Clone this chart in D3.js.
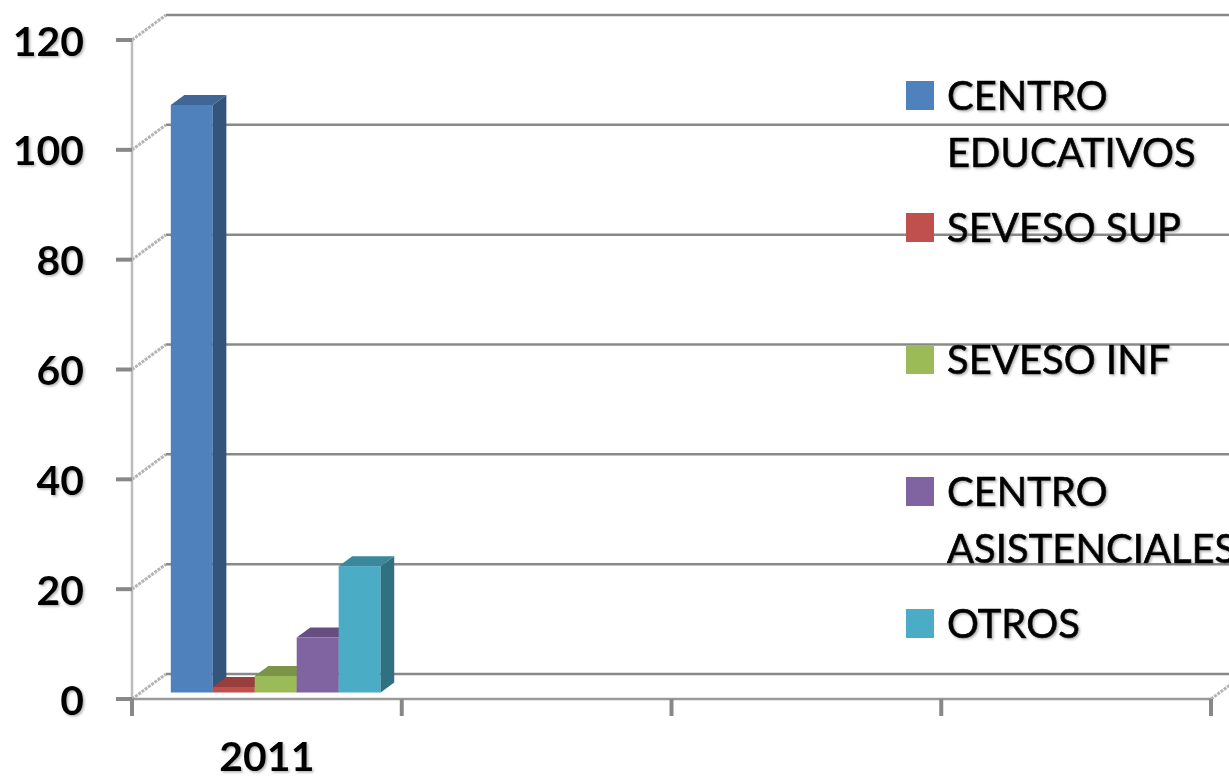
<!DOCTYPE html>
<html>
<head>
<meta charset="utf-8">
<script src="https://cdn.jsdelivr.net/npm/d3@7"></script>
<style>
  html, body { margin: 0; padding: 0; background: #fff; }
  svg { display: block; font-family: Lato, "DejaVu Sans", sans-serif; }
</style>
</head>
<body>
<svg id="chart" width="1229" height="780"></svg>
<script>
// data
const categories = ["2011", "", "", ""];
const seriesNames = ["CENTRO\nEDUCATIVOS", "SEVESO SUP", "SEVESO INF", "CENTRO\nASISTENCIALES", "OTROS"];
const seriesColors = ["#4F81BD", "#C0504D", "#9BBB59", "#8064A2", "#4BACC6"];
const values2011 = [107, 1, 3, 10, 23];
const yTicks = [0, 20, 40, 60, 80, 100, 120];

// front plane geometry and the 3d depth offset of the back wall
const plotLeft = 132, plotRight = 1211, plotBottom = 699, plotTop = 40;
const depthX = 34, depthY = -25;
// bars sit between these fractions of the depth
const barD0 = 0.26, barD1 = 0.66;

const svg = d3.select("#chart");

const defs = svg.append("defs");
defs.append("filter").attr("id", "shadow")
  .attr("x", "-10%").attr("y", "-10%").attr("width", "120%").attr("height", "130%")
  .append("feDropShadow")
  .attr("dx", 1.5).attr("dy", 1.5).attr("stdDeviation", 1)
  .attr("flood-color", "#777").attr("flood-opacity", 0.55);

const x0 = d3.scaleBand()
  .domain(d3.range(categories.length))
  .range([plotLeft, plotRight]);

const x1 = d3.scaleBand()
  .domain(d3.range(seriesNames.length))
  .range([0, x0.bandwidth()])
  .paddingOuter(0.714);

const y = d3.scaleLinear().domain([0, 120]).range([plotBottom, plotTop]);

// back wall gridlines
const grid = svg.append("g");
grid.selectAll("line.grid")
  .data(yTicks)
  .join("line")
  .attr("class", "grid")
  .attr("x1", plotLeft + depthX).attr("x2", plotRight + depthX + 40)
  .attr("y1", d => y(d) + depthY).attr("y2", d => y(d) + depthY)
  .attr("stroke", "#898989").attr("stroke-width", 2.5);

// side wall diagonals
grid.selectAll("line.diag")
  .data(yTicks)
  .join("line")
  .attr("class", "diag")
  .attr("x1", plotLeft).attr("y1", d => y(d))
  .attr("x2", plotLeft + depthX).attr("y2", d => y(d) + depthY)
  .attr("stroke", "#b4b4b4").attr("stroke-width", 3)
  .attr("stroke-dasharray", "3,1");

// right floor diagonal
grid.append("line")
  .attr("x1", plotRight).attr("y1", plotBottom)
  .attr("x2", plotRight + depthX).attr("y2", plotBottom + depthY)
  .attr("stroke", "#b4b4b4").attr("stroke-width", 3)
  .attr("stroke-dasharray", "3,1");

// front vertical axis line
svg.append("line")
  .attr("x1", plotLeft).attr("x2", plotLeft)
  .attr("y1", y(120)).attr("y2", plotBottom)
  .attr("stroke", "#bdbdbd").attr("stroke-width", 2.5);

// y ticks and labels
const yAxis = svg.append("g");
yAxis.selectAll("line")
  .data(yTicks)
  .join("line")
  .attr("x1", plotLeft - 16).attr("x2", plotLeft)
  .attr("y1", d => y(d)).attr("y2", d => y(d))
  .attr("stroke", "#888").attr("stroke-width", 4);
yAxis.selectAll("text")
  .data(yTicks)
  .join("text")
  .attr("x", 84).attr("y", d => y(d))
  .attr("text-anchor", "end")
  .attr("dominant-baseline", "central")
  .attr("font-size", 41).attr("font-weight", 700)
  .attr("fill", "#000")
  .attr("filter", "url(#shadow)")
  .text(d => d);

// floor front line and category ticks
svg.append("line")
  .attr("x1", plotLeft).attr("x2", plotRight)
  .attr("y1", plotBottom).attr("y2", plotBottom)
  .attr("stroke", "#9a9a9a").attr("stroke-width", 2.5);

const xTicks = x0.domain().map(i => x0(i)).concat([plotRight]);
svg.append("g").selectAll("line")
  .data(xTicks)
  .join("line")
  .attr("x1", d => d).attr("x2", d => d)
  .attr("y1", plotBottom).attr("y2", plotBottom + 17)
  .attr("stroke", "#888").attr("stroke-width", 4);

svg.append("g").selectAll("text")
  .data(categories)
  .join("text")
  .attr("x", (d, i) => x0(i) + x0.bandwidth() / 2)
  .attr("y", 771)
  .attr("text-anchor", "middle")
  .attr("font-size", 41).attr("font-weight", 700)
  .attr("filter", "url(#shadow)")
  .text(d => d);

// 3d bars
const bars = svg.append("g");
values2011.forEach((v, i) => {
  const fx = x0(0) + x1(i) + depthX * barD0;
  const fy = depthY * barD0;
  const w = x1.bandwidth();
  const ddx = depthX * (barD1 - barD0), ddy = depthY * (barD1 - barD0);
  const y0 = y(0) + fy, yv = y(v) + fy;
  const c = d3.color(seriesColors[i]);
  const g = bars.append("g");
  // front
  g.append("rect")
    .attr("x", fx).attr("y", yv)
    .attr("width", w).attr("height", y0 - yv)
    .attr("fill", c.formatHex());
  // top
  g.append("path")
    .attr("d", `M${fx},${yv}L${fx + w},${yv}L${fx + w + ddx},${yv + ddy}L${fx + ddx},${yv + ddy}Z`)
    .attr("fill", c.darker(0.65).formatHex());
  // side
  g.append("path")
    .attr("d", `M${fx + w},${yv}L${fx + w + ddx},${yv + ddy}L${fx + w + ddx},${y0 + ddy}L${fx + w},${y0}Z`)
    .attr("fill", c.darker(1.2).formatHex());
});

// legend
const legend = svg.append("g");
const entry = legend.selectAll("g")
  .data(seriesNames)
  .join("g")
  .attr("transform", (d, i) => `translate(906, ${110 + i * 132})`);
entry.append("rect")
  .attr("x", 0).attr("y", -29)
  .attr("width", 28).attr("height", 29)
  .attr("fill", (d, i) => seriesColors[i]);
entry.append("text")
  .attr("x", 41)
  .attr("font-size", 40)
  .attr("fill", "#000")
  .attr("stroke", "#000").attr("stroke-width", 0.7)
  .attr("filter", "url(#shadow)")
  .selectAll("tspan")
  .data(d => d.split("\n"))
  .join("tspan")
  .attr("x", 41)
  .attr("dy", (d, j) => j === 0 ? 0 : 57)
  .text(d => d);
</script>
</body>
</html>
